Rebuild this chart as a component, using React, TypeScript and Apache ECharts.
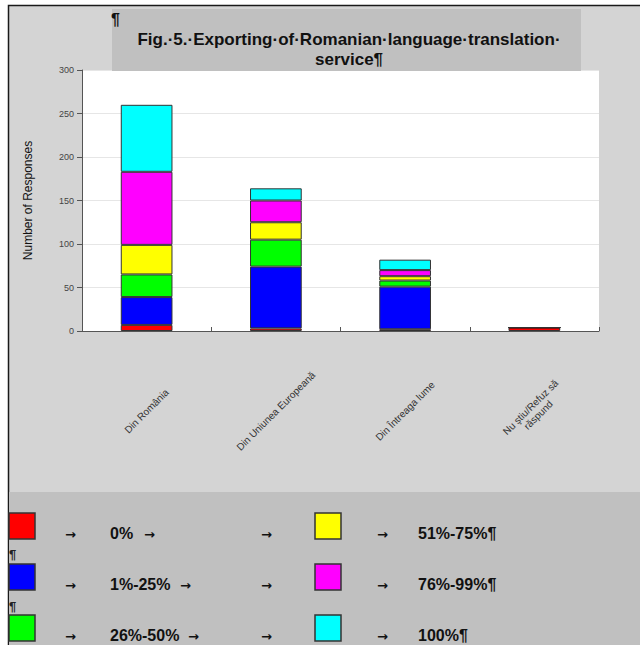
import React, { useEffect, useRef } from "react";
import * as echarts from "echarts";

const categories = [
  "Din România",
  "Din Uniunea Europeană",
  "Din Întreaga lume",
  "Nu ştiu/Refuz să\nrăspund",
];
const seriesNames = ["0%", "1%-25%", "26%-50%", "51%-75%", "76%-99%", "100%"];
const seriesColors = ["#ff0000", "#0000ff", "#00ff00", "#ffff00", "#ff00ff", "#00ffff"];
const values0 = [7, 3, 2, 4];
const values1 = [32, 71, 49, 0];
const values2 = [26, 31, 7, 0];
const values3 = [34, 20, 5, 0];
const values4 = [84, 25, 7, 0];
const values5 = [77, 14, 12, 0];
const seriesValues = [values0, values1, values2, values3, values4, values5];

const titleLines = ["Fig.·5.·Exporting·of·Romanian·language·translation·", "service¶"];
const yAxisName = "Number of Responses";
const legendLeftCol = [0, 1, 2];
const legendRightCol = [3, 4, 5];

const FONT = 'Arial, "Liberation Sans", sans-serif';

export default function App() {
  const ref = useRef<HTMLDivElement>(null);

  useEffect(() => {
    if (!ref.current) return;
    const chart = echarts.init(ref.current, null, { renderer: "svg" });

    const graphics: any[] = [];
    graphics.push({
      type: "rect",
      z: -10,
      shape: { x: 8, y: 5, width: 632, height: 640 },
      style: { fill: "#d4d4d4" },
      silent: true,
    });
    graphics.push({
      type: "polyline",
      z: -9,
      shape: { points: [[8.5, 645], [8.5, 5.5], [640, 5.5]] },
      style: { stroke: "#1a1a1a", lineWidth: 1.5, fill: null },
      silent: true,
    });
    graphics.push({
      type: "rect",
      z: 50,
      shape: { x: 112, y: 9, width: 469, height: 62 },
      style: { fill: "#c0c0c0" },
      silent: true,
    });
    graphics.push({
      type: "text",
      z: 51,
      x: 111,
      y: 19,
      style: { text: "¶", fontSize: 16, fontWeight: "bold", fontFamily: FONT, fill: "#111", verticalAlign: "middle" },
    });
    graphics.push({
      type: "text",
      z: 51,
      x: 349,
      y: 39,
      style: { text: titleLines[0], fontSize: 17, fontWeight: "bold", fontFamily: FONT, fill: "#111", align: "center", verticalAlign: "middle" },
    });
    graphics.push({
      type: "text",
      z: 51,
      x: 349,
      y: 59,
      style: { text: titleLines[1], fontSize: 17, fontWeight: "bold", fontFamily: FONT, fill: "#111", align: "center", verticalAlign: "middle" },
    });
    graphics.push({
      type: "rect",
      z: -8,
      shape: { x: 9, y: 492, width: 631, height: 153 },
      style: { fill: "#c0c0c0" },
      silent: true,
    });
    const rowTops = [513, 564, 615];
    const addItem = (idx: number, row: number, sqX: number, arrowXs: number[], textX: number, suffix: string) => {
      const top = rowTops[row];
      graphics.push({
        type: "rect",
        z: 5,
        shape: { x: sqX, y: top, width: 26, height: 26 },
        style: { fill: seriesColors[idx], stroke: "#333", lineWidth: 1.5 },
      });
      arrowXs.forEach((ax) => {
        graphics.push({
          type: "text",
          z: 5,
          x: ax,
          y: top + 21,
          style: { text: "→", fontSize: 13, fontWeight: "bold", fontFamily: '"DejaVu Sans", sans-serif', fill: "#111", verticalAlign: "middle" },
        });
      });
      graphics.push({
        type: "text",
        z: 5,
        x: textX,
        y: top + 20,
        style: { text: seriesNames[idx] + suffix, fontSize: 16, fontWeight: "bold", fontFamily: FONT, fill: "#111", verticalAlign: "middle" },
      });
    };
    legendLeftCol.forEach((idx, row) => {
      const nameW = [26, 62, 70][row];
      addItem(idx, row, 9, [65, 110 + nameW + 8, 261], 110, "");
    });
    legendRightCol.forEach((idx, row) => {
      addItem(idx, row, 315, [377], 418, "¶");
    });
    [554, 606].forEach((py) => {
      graphics.push({
        type: "text",
        z: 5,
        x: 9,
        y: py,
        style: { text: "¶", fontSize: 13, fontWeight: "bold", fontFamily: FONT, fill: "#222", verticalAlign: "middle" },
      });
    });

    chart.setOption({
      animation: false,
      backgroundColor: "#ffffff",
      graphic: graphics,
      grid: {
        left: 82,
        top: 70,
        right: 41,
        bottom: 314,
        show: true,
        backgroundColor: "#ffffff",
        borderWidth: 0,
      },
      xAxis: {
        type: "category",
        data: categories,
        axisLine: { lineStyle: { color: "#555", width: 1 } },
        axisTick: { show: true, inside: true, length: 4, lineStyle: { color: "#555" } },
        axisLabel: {
          rotate: 45,
          align: "center",
          verticalAlign: "middle",
          margin: 80,
          fontSize: 10,
          fontFamily: FONT,
          color: "#333",
          lineHeight: 11,
        },
      },
      yAxis: {
        type: "value",
        min: 0,
        max: 300,
        interval: 50,
        name: yAxisName,
        nameLocation: "middle",
        nameGap: 48,
        nameTextStyle: { fontSize: 12, fontFamily: FONT, color: "#111" },
        axisLine: { show: true, lineStyle: { color: "#555", width: 1 } },
        axisTick: { show: true, length: 5, lineStyle: { color: "#555" } },
        axisLabel: { fontSize: 9, fontFamily: FONT, color: "#444", margin: 8 },
        splitLine: { show: true, lineStyle: { color: "#e6e6e6", width: 1 } },
      },
      series: seriesValues.map((vals, i) => ({
        name: seriesNames[i],
        type: "bar",
        stack: "total",
        data: vals,
        barWidth: "40%",
        itemStyle: { color: seriesColors[i], borderColor: "#333", borderWidth: 1 },
      })),
    });

    return () => chart.dispose();
  }, []);

  return (
    <div
      ref={ref}
      style={{ position: "absolute", left: 0, top: 0, width: 640, height: 645 }}
    />
  );
}
